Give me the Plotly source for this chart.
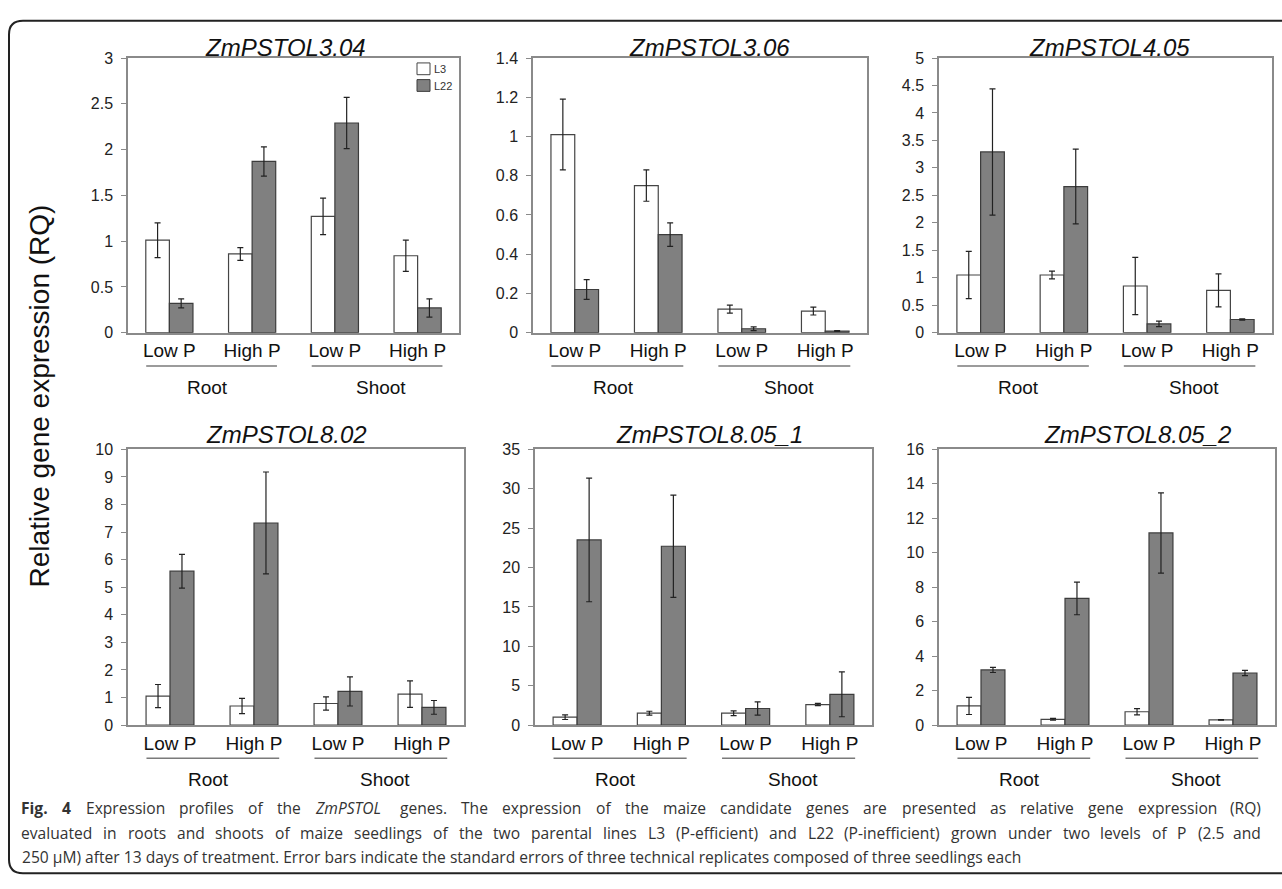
import re
import plotly.graph_objects as go

W, H = 1282, 889

# ---------------- data ----------------
conditions = ["Low P", "High P", "Low P", "High P"]
tissues = ["Root", "Root", "Shoot", "Shoot"]
genes = ["ZmPSTOL3.04", "ZmPSTOL3.06", "ZmPSTOL4.05",
         "ZmPSTOL8.02", "ZmPSTOL8.05_1", "ZmPSTOL8.05_2"]
lines = ["L3", "L22"]

l3_304 = [1.01, 0.86, 1.27, 0.84]
l3_304_err = [0.19, 0.07, 0.20, 0.17]
l22_304 = [0.32, 1.87, 2.29, 0.27]
l22_304_err = [0.05, 0.16, 0.28, 0.10]

l3_306 = [1.01, 0.75, 0.12, 0.11]
l3_306_err = [0.18, 0.08, 0.02, 0.02]
l22_306 = [0.22, 0.50, 0.02, 0.008]
l22_306_err = [0.05, 0.06, 0.01, 0.002]

l3_405 = [1.05, 1.05, 0.85, 0.77]
l3_405_err = [0.43, 0.07, 0.52, 0.30]
l22_405 = [3.29, 2.66, 0.16, 0.24]
l22_405_err = [1.15, 0.68, 0.05, 0.01]

l3_802 = [1.05, 0.69, 0.78, 1.12]
l3_802_err = [0.42, 0.28, 0.24, 0.48]
l22_802 = [5.58, 7.33, 1.22, 0.64]
l22_802_err = [0.61, 1.85, 0.53, 0.25]

l3_805_1 = [1.0, 1.5, 1.5, 2.6]
l3_805_1_err = [0.3, 0.25, 0.3, 0.15]
l22_805_1 = [23.5, 22.7, 2.1, 3.9]
l22_805_1_err = [7.85, 6.5, 0.85, 2.85]

l3_805_2 = [1.11, 0.33, 0.77, 0.30]
l3_805_2_err = [0.5, 0.05, 0.18, 0.02]
l22_805_2 = [3.20, 7.35, 11.15, 3.02]
l22_805_2_err = [0.15, 0.95, 2.33, 0.15]

l3_values = [l3_304, l3_306, l3_405, l3_802, l3_805_1, l3_805_2]
l3_errors = [l3_304_err, l3_306_err, l3_405_err, l3_802_err, l3_805_1_err, l3_805_2_err]
l22_values = [l22_304, l22_306, l22_405, l22_802, l22_805_1, l22_805_2]
l22_errors = [l22_304_err, l22_306_err, l22_405_err, l22_802_err, l22_805_1_err, l22_805_2_err]

y_max = [3, 1.4, 5, 10, 35, 16]
y_step = [0.5, 0.2, 0.5, 1, 5, 2]

y_label = "Relative gene expression (RQ)"
caption_lines = [
    "<b>Fig.</b> <b>4</b> Expression profiles of the <i>ZmPSTOL</i> genes. The expression of the maize candidate genes are presented as relative gene expression (RQ)",
    "evaluated in roots and shoots of maize seedlings of the two parental lines L3 (P-efficient) and L22 (P-inefficient) grown under two levels of P (2.5 and",
    "250 µM) after 13 days of treatment. Error bars indicate the standard errors of three technical replicates composed of three seedlings each",
]
caption_justified = [True, True, False]

# ---------------- layout geometry (pixels) ----------------
panel_px = [
    (128, 459, 51, 331),
    (533, 867, 51, 331),
    (939, 1272, 51, 331),
    (128, 464, 450, 731),
    (535, 872, 450, 731),
    (939, 1275, 450, 731),
]
title_cx = [285, 709, 1109, 286, 709, 1137]
title_cy = [40, 40, 40, 435, 435, 435]


def px(x):
    return x / W


def py(y):
    return 1 - y / H


FONT = "Liberation Sans, Arial, sans-serif"
CAP_FONT = "Open Sans, sans-serif"
CAP_SIZE = 15.6
CAP_LEFT, CAP_RIGHT = 20, 1262
AX_COLOR = "#8a8a8a"

# approximate Open Sans advance widths (em) used to justify caption lines
OS_W = {
    " ": 0.260, "a": 0.556, "b": 0.613, "c": 0.480, "d": 0.613, "e": 0.561,
    "f": 0.336, "g": 0.547, "h": 0.613, "i": 0.258, "j": 0.258, "k": 0.529,
    "l": 0.258, "m": 0.932, "n": 0.613, "o": 0.601, "p": 0.613, "q": 0.613,
    "r": 0.408, "s": 0.477, "t": 0.353, "u": 0.613, "v": 0.499, "w": 0.774,
    "x": 0.522, "y": 0.499, "z": 0.465,
    "A": 0.633, "B": 0.647, "C": 0.631, "D": 0.729, "E": 0.556, "F": 0.516,
    "G": 0.725, "H": 0.738, "I": 0.279, "J": 0.267, "K": 0.614, "L": 0.519,
    "M": 0.903, "N": 0.754, "O": 0.779, "P": 0.602, "Q": 0.779, "R": 0.618,
    "S": 0.549, "T": 0.553, "U": 0.729, "V": 0.595, "W": 0.926, "X": 0.577,
    "Y": 0.560, "Z": 0.571, ".": 0.266, ",": 0.249, "(": 0.296, ")": 0.296,
    "-": 0.322, "µ": 0.620,
}


def word_width(word, size):
    bold = "<b>" in word
    plain = re.sub(r"<[^>]+>", "", word)
    w = sum(OS_W.get(c, 0.572 if c.isdigit() else 0.55) for c in plain) * size
    return w * (1.07 if bold else 1.0)


fig = go.Figure()
layout = dict(
    width=W, height=H,
    margin=dict(l=0, r=0, t=0, b=0),
    paper_bgcolor="white", plot_bgcolor="white",
    barmode="group", bargap=0.43, bargroupgap=0,
    showlegend=False,
    font=dict(family=FONT, color="#222"),
)

x_idx = list(range(len(conditions)))
annotations = []
shapes = []

for i in range(6):
    xa = "x" if i == 0 else f"x{i+1}"
    ya = "y" if i == 0 else f"y{i+1}"
    xl = "xaxis" if i == 0 else f"xaxis{i+1}"
    yl = "yaxis" if i == 0 else f"yaxis{i+1}"
    x0, x1, y0, y1 = panel_px[i]

    fig.add_trace(go.Bar(
        x=x_idx, y=l3_values[i], name=lines[0], xaxis=xa, yaxis=ya,
        marker=dict(color="white", line=dict(color="#454545", width=1.2)),
        error_y=dict(type="data", array=l3_errors[i], color="#222",
                     thickness=1.2, width=3),
    ))
    fig.add_trace(go.Bar(
        x=x_idx, y=l22_values[i], name=lines[1], xaxis=xa, yaxis=ya,
        marker=dict(color="#808080", line=dict(color="#3c3c3c", width=1.2)),
        error_y=dict(type="data", array=l22_errors[i], color="#222",
                     thickness=1.2, width=3),
    ))

    layout[xl] = dict(
        domain=[px(x0), px(x1)], anchor=ya,
        range=[-0.5, len(conditions) - 0.5],
        tickmode="array", tickvals=x_idx, ticktext=conditions,
        showline=True, linecolor=AX_COLOR, linewidth=1.5, mirror=True,
        ticks="", showgrid=False, zeroline=False,
        tickfont=dict(family=FONT, size=19, color="#111"),
        fixedrange=True,
    )
    layout[yl] = dict(
        domain=[py(y1), py(y0)], anchor=xa,
        range=[0, y_max[i]], dtick=y_step[i], tick0=0,
        showline=True, linecolor=AX_COLOR, linewidth=1.5, mirror=True,
        ticks="outside", ticklen=5, tickcolor=AX_COLOR, tickwidth=1.2,
        showgrid=False, zeroline=False,
        tickfont=dict(family=FONT, size=16, color="#222"),
        ticklabelstandoff=5,
        fixedrange=True,
    )

    # panel title
    annotations.append(dict(
        text=f"<i>{genes[i]}</i>", xref="paper", yref="paper",
        x=px(title_cx[i]), y=py(title_cy[i]), xanchor="center", yanchor="middle",
        showarrow=False, font=dict(family=FONT, size=24, color="#111"),
    ))

    # tissue group underlines and labels
    for t in ["Root", "Shoot"]:
        idx = [k for k, v in enumerate(tissues) if v == t]
        shapes.append(dict(
            type="line", xref=xa, yref="paper",
            x0=min(idx) - 0.28, x1=max(idx) + 0.3,
            y0=py(y1 + 34), y1=py(y1 + 34),
            line=dict(color="#7a7a7a", width=1.5),
        ))
        annotations.append(dict(
            text=t, xref=xa, yref="paper",
            x=sum(idx) / len(idx) + (0.06 if t == "Shoot" else -0.04),
            y=py(y1 + 56), xanchor="center", yanchor="middle",
            showarrow=False, font=dict(family=FONT, size=19, color="#111"),
        ))

# manual legend inside first panel
legend_fill = ["white", "#808080"]
legend_line = ["#454545", "#3c3c3c"]
for k, name in enumerate(lines):
    top = 56 + k * 17
    shapes.append(dict(
        type="rect", xref="paper", yref="paper",
        x0=px(417), x1=px(430), y0=py(top + 12), y1=py(top),
        fillcolor=legend_fill[k], line=dict(color=legend_line[k], width=1),
    ))
    annotations.append(dict(
        text=name, xref="paper", yref="paper",
        x=px(432), y=py(top + 6.5), xanchor="left", yanchor="middle",
        showarrow=False, font=dict(family=FONT, size=11, color="#333"),
    ))

# shared y label
annotations.append(dict(
    text=y_label, xref="paper", yref="paper",
    x=px(39), y=py(396), xanchor="center", yanchor="middle",
    textangle=-90, showarrow=False,
    font=dict(family=FONT, size=28, color="#111"),
))

# caption (first two lines justified word by word, last line left aligned)
cap_font = dict(family=CAP_FONT, size=CAP_SIZE, color="#333")
for k, line in enumerate(caption_lines):
    yk = py(816 + 25 * k)
    if not caption_justified[k]:
        annotations.append(dict(
            text=line, xref="paper", yref="paper", x=px(CAP_LEFT), y=yk,
            xanchor="left", yanchor="middle", showarrow=False, font=cap_font,
        ))
        continue
    words = line.split(" ")
    widths = [word_width(w, CAP_SIZE) for w in words]
    gap = (CAP_RIGHT - CAP_LEFT - sum(widths)) / (len(words) - 1)
    xpos = CAP_LEFT
    for j, w in enumerate(words):
        last = j == len(words) - 1
        annotations.append(dict(
            text=w, xref="paper", yref="paper",
            x=px(CAP_RIGHT if last else xpos), y=yk,
            xanchor="right" if last else "left", yanchor="middle",
            showarrow=False, font=cap_font, borderpad=0,
        ))
        xpos += widths[j] + gap

# rounded outer frame (open at right edge)
r = 14
L, T, B, R = 9, 13, 882, 1295
frame_path = (
    f"M {px(R)},{py(T)} L {px(L + r)},{py(T)} "
    f"Q {px(L)},{py(T)} {px(L)},{py(T + r)} "
    f"L {px(L)},{py(B - r)} "
    f"Q {px(L)},{py(B)} {px(L + r)},{py(B)} "
    f"L {px(R)},{py(B)}"
)
shapes.append(dict(type="path", xref="paper", yref="paper", path=frame_path,
                   line=dict(color="#222", width=2)))

layout["annotations"] = annotations
layout["shapes"] = shapes
fig.update_layout(**layout)

fig.write_html(
    "out.html",
    config={"displayModeBar": False},
    post_script="document.body.style.margin='0px';document.body.style.overflow='hidden';",
)
